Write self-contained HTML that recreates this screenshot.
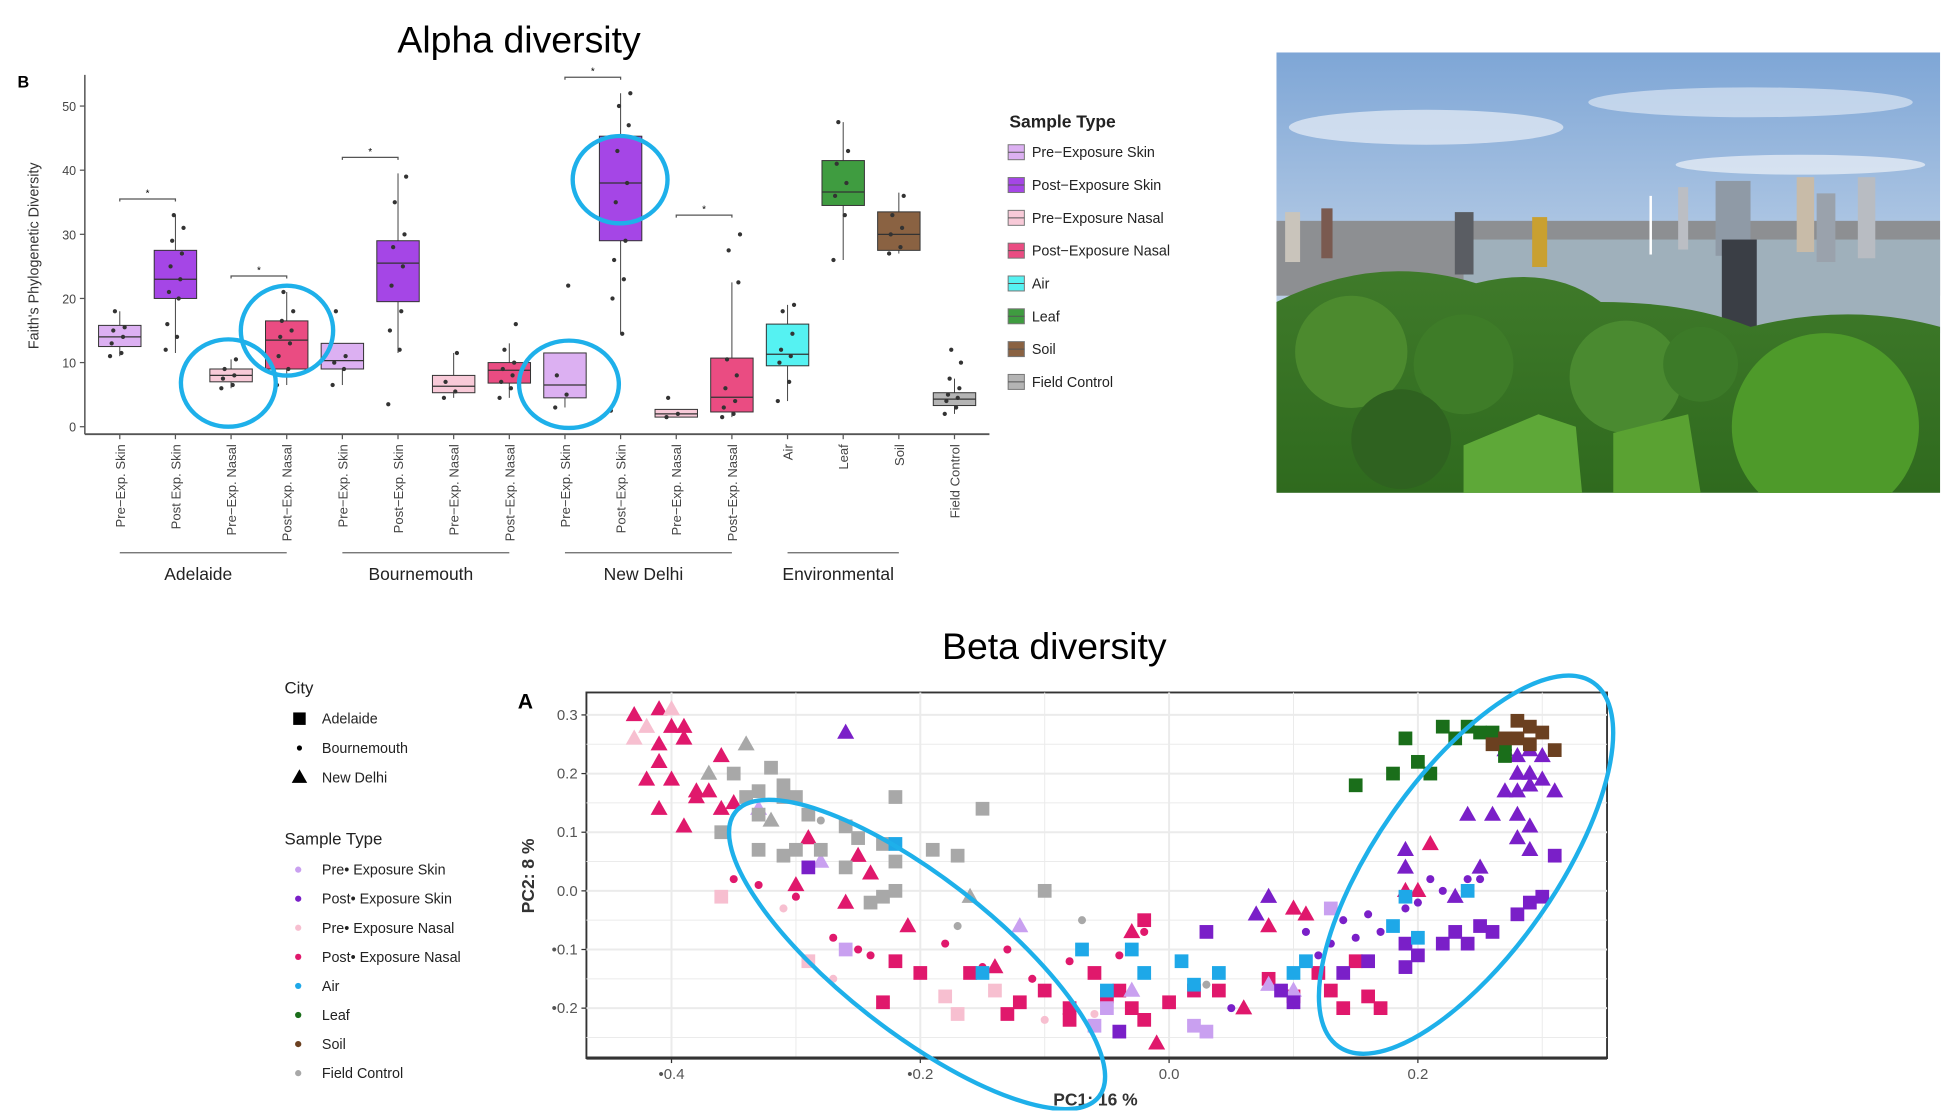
<!DOCTYPE html>
<html><head><meta charset="utf-8">
<style>
html,body{margin:0;padding:0;background:#fff;overflow:hidden}
#root{position:absolute;left:0;top:0;width:1568px;height:893px;transform:scale(1.2477);transform-origin:0 0;font-family:"Liberation Sans",sans-serif}
svg text{font-family:"Liberation Sans",sans-serif}
</style></head>
<body>
<div id="root">
<svg id="alpha" width="1000" height="480" style="position:absolute;left:0;top:0"></svg>
<svg id="photo" width="532" height="353" style="position:absolute;left:1023px;top:42px" viewBox="0 0 532 353">
 <defs>
  <linearGradient id="sky" x1="0" y1="0" x2="0" y2="1"><stop offset="0" stop-color="#7ea6d6"/><stop offset="0.5" stop-color="#b8cde6"/><stop offset="1" stop-color="#cfdbe8"/></linearGradient>
  <linearGradient id="grn" x1="0" y1="0" x2="0" y2="1"><stop offset="0" stop-color="#3f7a2a"/><stop offset="1" stop-color="#2f6a1e"/></linearGradient>
 </defs>
 <rect width="532" height="353" fill="url(#sky)"/>
 <ellipse cx="120" cy="60" rx="110" ry="14" fill="#e8eef6" opacity=".7"/>
 <ellipse cx="380" cy="40" rx="130" ry="12" fill="#e8eef6" opacity=".6"/>
 <ellipse cx="420" cy="90" rx="100" ry="8" fill="#eef2f8" opacity=".7"/>
 <rect y="135" width="532" height="60" fill="#8d8f92"/>
 <rect x="150" y="150" width="382" height="75" fill="#9fb0bb"/>
 <rect x="7" y="128" width="12" height="40" fill="#c9c4bb"/><rect x="36" y="125" width="9" height="40" fill="#7a5a50"/>
 <rect x="143" y="128" width="15" height="50" fill="#5a5d63"/><rect x="205" y="132" width="12" height="40" fill="#c9a030"/>
 <rect x="322" y="108" width="8" height="50" fill="#bbbec4"/><rect x="352" y="103" width="28" height="60" fill="#8f9aa6"/>
 <rect x="417" y="100" width="14" height="60" fill="#c8bba8"/><rect x="433" y="113" width="15" height="55" fill="#9aa2ac"/>
 <rect x="466" y="100" width="14" height="65" fill="#b8bcc2"/><rect x="357" y="150" width="28" height="85" fill="#3a3e45"/>
 <line x1="300" y1="162" x2="300" y2="115" stroke="#fff" stroke-width="2"/>
 <path d="M0 200 Q80 160 160 185 Q220 170 260 200 Q330 200 380 220 Q460 200 532 220 L532 353 L0 353Z" fill="url(#grn)"/>
 <circle cx="60" cy="240" r="45" fill="#4c8a2e"/><circle cx="150" cy="250" r="40" fill="#3e7c28"/>
 <circle cx="280" cy="260" r="45" fill="#4a8a30"/><circle cx="440" cy="300" r="75" fill="#4e9a2a"/>
 <circle cx="100" cy="310" r="40" fill="#2f6220"/><circle cx="340" cy="250" r="30" fill="#3c7a28"/>
 <path d="M150 315 L210 290 L240 300 L245 353 L150 353Z" fill="#5ea838"/>
 <path d="M270 305 L330 290 L340 353 L270 353Z" fill="#5aa232"/>
</svg>
<svg id="beta" width="1560" height="420" style="position:absolute;left:0;top:470px"></svg>
</div>
<script>
const NS="http://www.w3.org/2000/svg";
function mk(p,t,a,txt){const e=document.createElementNS(NS,t);for(const k in a)e.setAttribute(k,a[k]);if(txt!=null)e.textContent=txt;p.appendChild(e);return e;}

/* ---------------- ALPHA ---------------- */
const alphaCats=["Pre−Exp. Skin","Post Exp. Skin","Pre−Exp. Nasal","Post−Exp. Nasal","Pre−Exp. Skin","Post−Exp. Skin","Pre−Exp. Nasal","Post−Exp. Nasal","Pre−Exp. Skin","Post−Exp. Skin","Pre−Exp. Nasal","Post−Exp. Nasal","Air","Leaf","Soil","Field Control"];
const alphaQ1=[12.5,20,7,9,9,19.5,5.3,6.8,4.5,29,1.5,2.3,9.5,34.5,27.5,3.3];
const alphaMed=[14,23,8,13.5,10.3,25.5,6.3,8.8,6.5,38,2,4.6,11.3,36.6,30,4.3];
const alphaQ3=[15.8,27.5,9,16.5,13,29,8,10,11.5,45.3,2.7,10.7,16,41.5,33.5,5.3];
const alphaLo=[11,11.5,6,6.5,6.5,11.5,4.5,4.5,3,14.5,1.5,1.5,4,26,27,2];
const alphaHi=[18,33,10.5,21,13,39.5,11.5,13,11.5,52,2.7,22.5,19,47.5,36.5,7.5];
const alphaColors=["#dcb0f2","#a546e6","#f8cad8","#ea4c82","#dcb0f2","#a546e6","#f8cad8","#ea4c82","#dcb0f2","#a546e6","#f8cad8","#ea4c82","#55f2f2","#3f9c40","#8a6242","#b4b4b4"];
const alphaPoints=[[11,11.5,13,14,15,15.5,18],[12,14,16,20,21,23,25,27,29,31,33],[6,6.5,7.5,8,9,10.5],[6.5,9,11,13,14,15,16.5,18,21],[6.5,9,10,11,18],[3.5,12,15,18,22,25,28,30,35,39],[4.5,5.5,7,11.5],[4.5,6,7,8,9,10,12,16],[3,5,8,22],[2.5,14.5,20,23,26,29,35,38,43,47,50,52],[1.5,2,4.5],[1.5,2,3,4,6,8,10.5,22.5,27.5,30],[4,7,10,11,12,14.5,18,19],[26,33,36,38,41,43,47.5],[27,28,30,31,33,36],[2,3,4,4.5,5,6,7.5,10,12]];
const alphaGroups=["Adelaide","Bournemouth","New Delhi","Environmental"];
const alphaGroupSpan=[[0,3],[4,7],[8,11],[12,14]];
const alphaSig=[[0,1,35.5],[2,3,23.5],[4,5,42],[8,9,54.5],[10,11,33]];
const alphaYTicks=[0,10,20,30,40,50];
const legendLabels=["Pre−Exposure Skin","Post−Exposure Skin","Pre−Exposure Nasal","Post−Exposure Nasal","Air","Leaf","Soil","Field Control"];
const legendColors=["#dcb0f2","#a546e6","#f8cad8","#ea4c82","#55f2f2","#3f9c40","#8a6242","#b4b4b4"];

const A=document.getElementById("alpha");
const ay=v=>342-v*5.14;
const ax=i=>96+i*44.6;
let t=mk(A,"text",{x:416,y:42,"text-anchor":"middle","font-size":30,fill:"#000"},"Alpha diversity");

mk(A,"text",{x:14,y:70,"font-size":13,"font-weight":"bold"},"B");
mk(A,"line",{x1:68,y1:60,x2:68,y2:348,stroke:"#555","stroke-width":1.2});
mk(A,"line",{x1:68,y1:348,x2:793,y2:348,stroke:"#555","stroke-width":1.5});
alphaYTicks.forEach(v=>{mk(A,"line",{x1:64,x2:68,y1:ay(v),y2:ay(v),stroke:"#555"});
 const tt=mk(A,"text",{x:61,y:ay(v)+4,"text-anchor":"end","font-size":10,fill:"#444"},v);
 });
t=mk(A,"text",{x:0,y:0,transform:"translate(31,205) rotate(-90)","text-anchor":"middle","font-size":11.5,fill:"#333"},"Faith's Phylogenetic Diversity");

alphaCats.forEach((c,i)=>{
 const x=ax(i),w=34,col=alphaColors[i];
 const g=mk(A,"g",{});
 
 mk(g,"line",{x1:x,x2:x,y1:ay(alphaHi[i]),y2:ay(alphaLo[i]),stroke:"#444","stroke-width":0.8});
 mk(g,"rect",{x:x-w/2,y:ay(alphaQ3[i]),width:w,height:ay(alphaQ1[i])-ay(alphaQ3[i]),fill:col,stroke:"#333","stroke-width":0.8});
 mk(g,"line",{x1:x-w/2,x2:x+w/2,y1:ay(alphaMed[i]),y2:ay(alphaMed[i]),stroke:"#333","stroke-width":1});
 alphaPoints[i].forEach((v,k)=>{const p=mk(g,"circle",{cx:x+((k*7)%13-6)*1.3,cy:ay(v),r:1.7,fill:"#333"});
  });
 mk(A,"line",{x1:x,x2:x,y1:348,y2:352,stroke:"#555"});
 const tl=mk(A,"text",{x:0,y:0,transform:`translate(${x+4},356) rotate(-90)`,"text-anchor":"end","font-size":10.5,fill:"#444"},c);
 
});
alphaSig.forEach(s=>{const y=ay(s[2]);const g=mk(A,"g",{});
 
 mk(g,"path",{d:`M${ax(s[0])} ${y+2}V${y}H${ax(s[1])}V${y+2}`,fill:"none",stroke:"#555","stroke-width":1});
 mk(g,"text",{x:(ax(s[0])+ax(s[1]))/2,y:y-2,"text-anchor":"middle","font-size":8},"*");});
alphaGroups.forEach((n,i)=>{const a=ax(alphaGroupSpan[i][0]),b=ax(alphaGroupSpan[i][1]);
 mk(A,"line",{x1:a,x2:b,y1:443,y2:443,stroke:"#666","stroke-width":1});
 const gl=mk(A,"text",{x:(a+b)/2-4,y:465,"text-anchor":"middle","font-size":14,fill:"#222"},n);
 });
mk(A,"text",{x:809,y:102,"font-size":14,"font-weight":"bold",fill:"#222"},"Sample Type");
legendLabels.forEach((l,i)=>{const y=122+i*26.3;const g=mk(A,"g",{});
 
 mk(g,"rect",{x:808,y:y-6,width:13,height:12,fill:legendColors[i],stroke:"#777","stroke-width":0.8});
 mk(g,"line",{x1:808,x2:821,y1:y,y2:y,stroke:"#555","stroke-width":0.8});
 mk(g,"text",{x:827,y:y+4,"font-size":11.5,fill:"#222"},l);});
[[183,307,38,35],[230,265,37,36],[497,144,38,35],[456,308,40,35]].forEach(e=>{const c=mk(A,"ellipse",{cx:e[0],cy:e[1],rx:e[2],ry:e[3],fill:"none",stroke:"#1eb0ea","stroke-width":3.5});
 });

/* ---------------- BETA ---------------- */
const betaColors=["#c9a0f0","#7a1fc8","#f7bfd0","#e0186c","#1ea8e8","#1a6e1a","#6b4020","#a8a8a8"];
const betaX=[-0.43,-0.41,-0.40,-0.42,-0.40,-0.39,-0.43,-0.41,-0.39,-0.41,-0.42,-0.40,-0.38,-0.37,-0.38,-0.41,-0.39,-0.36,-0.35,-0.36,-0.26,-0.34,-0.37,-0.33,-0.29,-0.32,-0.28,-0.25,
 -0.33,-0.32,-0.31,-0.31,-0.35,-0.34,-0.36,-0.33,-0.30,-0.29,-0.26,-0.22,-0.15,-0.25,-0.23,-0.22,-0.19,-0.30,-0.31,-0.33,-0.28,-0.22,-0.23,-0.24,-0.17,-0.10,-0.16,-0.07,-0.17,-0.26,-0.28,0.03,
 -0.35,-0.33,-0.30,-0.24,-0.27,-0.25,-0.18,-0.15,-0.13,-0.11,-0.08,-0.04,-0.02,0.0,-0.04,
 -0.22,-0.20,-0.16,-0.12,-0.10,-0.08,-0.06,-0.05,-0.03,-0.02,0.02,0.04,-0.23,-0.13,-0.08,0.10,0.12,0.13,0.14,0.15,0.16,0.17,0.08,0.06,-0.01,
 -0.30,-0.26,-0.21,-0.24,-0.03,-0.14,0.08,0.10,0.11,0.20,0.21,0.19,-0.02,
 -0.36,-0.29,-0.18,-0.17,-0.10,-0.06,-0.31,-0.27,-0.14,
 -0.26,-0.05,-0.06,0.02,0.03,0.08,0.10,0.13,-0.12,-0.03,
 0.27,0.28,0.29,0.30,0.28,0.29,0.30,0.27,0.28,0.29,0.31,0.24,0.26,0.28,0.29,0.28,0.29,0.19,0.19,0.25,0.23,0.08,0.07,0.19,-0.04,
 0.31,0.29,0.30,0.28,0.26,0.25,0.23,0.24,0.22,0.20,0.19,0.16,0.14,0.09,0.10,0.05,0.18,
 0.25,0.24,0.22,0.21,0.20,0.19,0.16,0.14,0.13,0.12,0.15,0.17,0.11,0.03,-0.29,
 -0.22,-0.15,-0.05,-0.02,-0.03,-0.07,0.01,0.04,0.02,0.18,0.19,0.24,0.20,0.11,0.10,
 0.22,0.24,0.23,0.25,0.26,0.27,0.27,0.20,0.21,0.19,0.18,0.15,
 0.28,0.29,0.30,0.28,0.29,0.31,0.26,0.27];
const betaY=[0.30,0.31,0.31,0.28,0.28,0.28,0.26,0.25,0.26,0.22,0.19,0.19,0.17,0.17,0.16,0.14,0.11,0.14,0.15,0.23,0.27,0.25,0.20,0.14,0.09,0.12,0.05,0.06,
 0.17,0.21,0.18,0.16,0.20,0.16,0.10,0.13,0.16,0.13,0.11,0.16,0.14,0.09,0.08,0.05,0.07,0.07,0.06,0.07,0.07,0.00,-0.01,-0.02,0.06,0.0,-0.01,-0.05,-0.06,0.04,0.12,-0.16,
 0.02,0.01,-0.01,-0.11,-0.08,-0.10,-0.09,-0.13,-0.10,-0.15,-0.12,-0.11,-0.07,-0.19,-0.17,
 -0.12,-0.14,-0.14,-0.19,-0.17,-0.22,-0.14,-0.18,-0.20,-0.22,-0.17,-0.17,-0.19,-0.21,-0.20,-0.18,-0.14,-0.17,-0.20,-0.12,-0.18,-0.20,-0.15,-0.20,-0.26,
 0.01,-0.02,-0.06,0.03,-0.07,-0.13,-0.06,-0.03,-0.04,0.00,0.08,0.00,-0.05,
 -0.01,-0.12,-0.18,-0.21,-0.22,-0.21,-0.03,-0.15,-0.17,
 -0.10,-0.20,-0.23,-0.23,-0.24,-0.16,-0.17,-0.03,-0.06,-0.17,
 0.24,0.23,0.24,0.23,0.20,0.20,0.19,0.17,0.17,0.18,0.17,0.13,0.13,0.13,0.11,0.09,0.07,0.07,0.04,0.04,-0.01,-0.01,-0.04,-0.09,-0.24,
 0.06,-0.02,-0.01,-0.04,-0.07,-0.06,-0.07,-0.09,-0.09,-0.11,-0.13,-0.12,-0.14,-0.17,-0.19,-0.20,-0.06,
 0.02,0.02,0.0,0.02,-0.02,-0.03,-0.04,-0.05,-0.09,-0.11,-0.08,-0.07,-0.07,-0.07,0.04,
 0.08,-0.14,-0.17,-0.14,-0.10,-0.10,-0.12,-0.14,-0.16,-0.06,-0.01,0.00,-0.08,-0.12,-0.14,
 0.28,0.28,0.26,0.27,0.27,0.25,0.23,0.22,0.20,0.26,0.20,0.18,
 0.29,0.28,0.27,0.26,0.25,0.24,0.25,0.26];
const betaType=[3,3,2,2,3,3,2,3,3,3,3,3,3,3,3,3,3,3,3,3,1,7,7,0,3,7,0,3,
 7,7,7,7,7,7,7,7,7,7,7,7,7,7,7,7,7,7,7,7,7,7,7,7,7,7,7,7,7,7,7,7,
 3,3,3,3,3,3,3,3,3,3,3,3,3,3,3,
 3,3,3,3,3,3,3,3,3,3,3,3,3,3,3,3,3,3,3,3,3,3,3,3,3,
 3,3,3,3,3,3,3,3,3,3,3,3,3,
 2,2,2,2,2,2,2,2,2,
 0,0,0,0,0,0,0,0,0,0,
 1,1,1,1,1,1,1,1,1,1,1,1,1,1,1,1,1,1,1,1,1,1,1,1,1,
 1,1,1,1,1,1,1,1,1,1,1,1,1,1,1,1,1,
 1,1,1,1,1,1,1,1,1,1,1,1,1,1,1,
 4,4,4,4,4,4,4,4,4,4,4,4,4,4,4,
 5,5,5,5,5,5,5,5,5,5,5,5,
 6,6,6,6,6,6,6,6];
const betaShape=("tttttttttttttttttttttttttttt"+"sssssssssssssssssssssssssstccs"+"ccccccccccccccc"+"sssssssssssssssssssssssss"+"ttttttttttttt"+"tssssscc"+"c"+"csssssstts"+"ttttttttttttttttttttttttt"+"sssssssssssssssss"+"ccccccccccccccc"+"sssssssssssssss"+"ssssssssssss"+"ssssssss").split("");
const betaXTicks=[-0.4,-0.2,0.0,0.2];
const betaXTickLabels=["•0.4","•0.2","0.0","0.2"];
const betaYTicks=[0.3,0.2,0.1,0.0,-0.1,-0.2];
const betaYTickLabels=["0.3","0.2","0.1","0.0","•0.1","•0.2"];
const cityLabels=["Adelaide","Bournemouth","New Delhi"];
const typeLabels=["Pre• Exposure Skin","Post• Exposure Skin","Pre• Exposure Nasal","Post• Exposure Nasal","Air","Leaf","Soil","Field Control"];

const B=document.getElementById("beta");
const OY=470;
const bx=v=>937+997*v;
const by=v=>714-470*v-OY;
t=mk(B,"text",{x:845,y:58,"text-anchor":"middle","font-size":30,fill:"#000"},"Beta diversity");

const px0=470,px1=1288,py0=555-OY,py1=848-OY;
mk(B,"rect",{x:px0,y:py0,width:px1-px0,height:py1-py0,fill:"#fff",stroke:"#333","stroke-width":1.5});
for(let v=-0.45;v<=0.36;v+=0.05){const y=by(v);if(y>py0&&y<py1)mk(B,"line",{x1:px0,x2:px1,y1:y,y2:y,stroke:"#ebebeb","stroke-width":Math.abs(Math.round(v*100))%10==0?1.6:0.8});}
for(let v=-0.5;v<=0.4;v+=0.1){const x=bx(v);if(x>px0&&x<px1)mk(B,"line",{x1:x,x2:x,y1:py0,y2:py1,stroke:"#ebebeb","stroke-width":Math.abs(Math.round(v*10))%2==0?1.6:0.8});}
mk(B,"line",{x1:px0,x2:px1,y1:py1,y2:py1,stroke:"#333","stroke-width":2.5});
betaXTicks.forEach((v,i)=>{mk(B,"line",{x1:bx(v),x2:bx(v),y1:py1,y2:py1+4,stroke:"#333"});
 const l=mk(B,"text",{x:bx(v),y:py1+17,"text-anchor":"middle","font-size":12,fill:"#555"},betaXTickLabels[i]);
 });
betaYTicks.forEach((v,i)=>{mk(B,"line",{x1:px0-4,x2:px0,y1:by(v),y2:by(v),stroke:"#333"});
 const l=mk(B,"text",{x:px0-7,y:by(v)+4,"text-anchor":"end","font-size":12,fill:"#555"},betaYTickLabels[i]);
 });
mk(B,"text",{x:415,y:568-OY,"font-size":17,"font-weight":"bold"},"A");
t=mk(B,"text",{x:878,y:886-OY,"text-anchor":"middle","font-size":14,"font-weight":"bold",fill:"#333"},"PC1:  16 %");

t=mk(B,"text",{x:0,y:0,transform:`translate(428,${702-OY}) rotate(-90)`,"text-anchor":"middle","font-size":14,"font-weight":"bold",fill:"#333"},"PC2:  8 %");

function shape(g,s,x,y,c,sz){
 if(s==="s")return mk(g,"rect",{x:x-sz/2,y:y-sz/2,width:sz,height:sz,fill:c});
 if(s==="c")return mk(g,"circle",{cx:x,cy:y,r:sz/3.4,fill:c});
 return mk(g,"path",{d:`M${x} ${y-sz*0.65}L${x+sz*0.62} ${y+sz*0.45}L${x-sz*0.62} ${y+sz*0.45}Z`,fill:c});
}
const pts=mk(B,"g",{});

betaX.forEach((v,i)=>{const p=shape(pts,betaShape[i]||"s",bx(v),by(betaY[i]),betaColors[betaType[i]],11);
 });
mk(B,"text",{x:228,y:556-OY,"font-size":13.5,fill:"#222"},"City");
cityLabels.forEach((l,i)=>{const y=576+i*23.5-OY;const g=mk(B,"g",{});
 
 shape(g,["s","c","t"][i],240,y,"#000",i==1?7:10);
 mk(g,"text",{x:258,y:y+4,"font-size":11.5,fill:"#222"},l);});
mk(B,"text",{x:228,y:677-OY,"font-size":13.5,fill:"#222"},"Sample Type");
typeLabels.forEach((l,i)=>{const y=697+i*23.3-OY;const g=mk(B,"g",{});
 
 mk(g,"circle",{cx:239,cy:y,r:2.5,fill:betaColors[i]});
 mk(g,"text",{x:258,y:y+4,"font-size":11.5,fill:"#222"},l);});
[[735,765,185,62,38],[1175,693,178,72,-55]].forEach(e=>{const c=mk(B,"ellipse",{cx:e[0],cy:e[1]-OY,rx:e[2],ry:e[3],transform:`rotate(${e[4]} ${e[0]} ${e[1]-OY})`,fill:"none",stroke:"#1eb0ea","stroke-width":3.5});
 });
</script>
</body></html>
